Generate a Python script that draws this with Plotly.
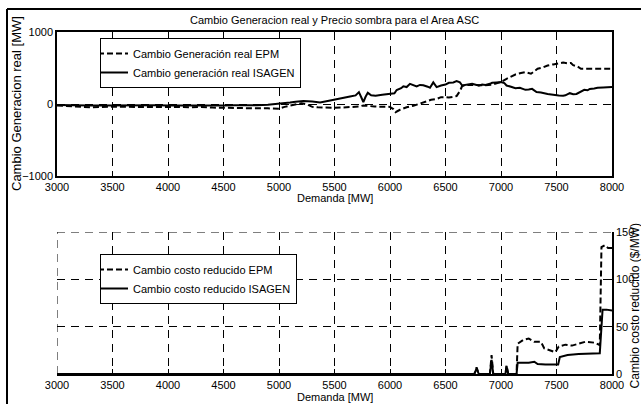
import plotly.graph_objects as go

# ---------------- data: top panel (Cambio Generacion real [MW]) ----------------
isagen_gen_x = [3000, 3100, 3200, 3300, 3400, 3500, 3600, 3700, 3800, 3900, 4000, 4100, 4200, 4300,
                4400, 4500, 4600, 4700, 4800, 4900, 5000, 5100, 5150, 5220, 5300, 5370, 5450, 5500,
                5580, 5640, 5690, 5720, 5745, 5760, 5780, 5800, 5830, 5870, 5930, 6000, 6040, 6060,
                6100, 6120, 6150, 6180, 6210, 6240, 6270, 6300, 6340, 6360, 6390, 6420, 6460, 6500,
                6530, 6570, 6600, 6630, 6650, 6700, 6740, 6780, 6800, 6830, 6860, 6900, 6920, 6960,
                7000, 7030, 7050, 7090, 7130, 7170, 7220, 7250, 7280, 7320, 7360, 7420, 7470, 7520,
                7560, 7580, 7620, 7650, 7680, 7720, 7750, 7780, 7800, 7840, 7870, 7920, 8000]
isagen_gen_y = [-15, -20, -25, -22, -20, -18, -20, -22, -20, -18, -20, -22, -20, -18,
                -22, -20, -18, -20, -18, -12, 0, 20, 30, 40, 35, 20, 45, 58,
                80, 105, 120, 165, 80, 25, 100, 155, 120, 115, 130, 140, 150, 195,
                220, 245, 235, 280, 260, 245, 265, 260, 240, 225, 300, 235, 257, 270,
                295, 300, 317, 300, 257, 270, 280, 265, 255, 270, 265, 280, 295, 300,
                305, 290, 257, 240, 220, 225, 197, 200, 210, 165, 160, 140, 125, 118,
                115, 120, 150, 135, 140, 170, 197, 190, 210, 215, 225, 230, 235]

epm_gen_x = [3000, 3100, 3200, 3300, 3400, 3500, 3600, 3700, 3800, 3900, 4000, 4100, 4200, 4300,
             4400, 4500, 4600, 4700, 4800, 4900, 5000, 5050, 5100, 5150, 5200, 5250, 5300, 5350,
             5400, 5500, 5580, 5670, 5720, 5760, 5800, 5860, 5930, 6000, 6030, 6050, 6090, 6120,
             6150, 6210, 6260, 6300, 6340, 6370, 6420, 6460, 6500, 6530, 6570, 6600, 6630, 6650,
             6700, 6740, 6800, 6860, 6920, 7000, 7050, 7090, 7130, 7180, 7220, 7270, 7330, 7380,
             7420, 7470, 7520, 7560, 7600, 7630, 7650, 7690, 7720, 7760, 7800, 7900, 8000]
epm_gen_y = [-20, -30, -40, -45, -40, -35, -38, -40, -38, -40, -35, -40, -45, -42,
             -50, -55, -50, -55, -60, -60, -65, -40, -20, 0, 10, -5, -40, -45,
             -50, -53, -48, -40, -35, -20, -30, -35, -38, -40, -70, -113, -80, -60,
             -45, -25, 0, 25, 45, 58, 70, 95, 95, 90, 100, 110, 180, 250,
             265, 262, 255, 260, 270, 305, 350, 380, 410, 430, 442, 420, 490, 510,
             535, 550, 560, 575, 565, 570, 540, 520, 490, 495, 490, 490, 490]

# ---------------- data: bottom panel (Cambio costo reducido ($/MW)) ----------------
epm_cost_x = [3000, 6760, 6780, 6800, 6900, 6915, 6930, 7040, 7050, 7065, 7140, 7150, 7200, 7250,
              7300, 7360, 7390, 7440, 7490, 7520, 7580, 7640, 7700, 7760, 7850, 7890, 7905, 7935,
              7965, 8000]
epm_cost_y = [0, 0, 7, 0, 0, 20, 0, 0, 9, 0, 0, 32, 36, 37.5,
              34, 34, 27, 25, 23, 29, 31, 30, 32, 34, 33, 30.5, 134, 136,
              133, 133]

isagen_cost_x = [3000, 6760, 6780, 6800, 6900, 6915, 6930, 7040, 7050, 7065, 7140, 7150, 7200, 7250,
                 7300, 7330, 7400, 7515, 7530, 7600, 7700, 7800, 7890, 7915, 7950, 8000]
isagen_cost_y = [0, 0, 6, 0, 0, 15, 0, 0, 8, 0, 0, 12, 12, 12,
                 13, 10.5, 10, 10, 18, 20, 21, 21.5, 22, 68, 68, 67]

x_ticks = [3000, 3500, 4000, 4500, 5000, 5500, 6000, 6500, 7000, 7500, 8000]
top_y_ticks = [-1000, 0, 1000]
bottom_y_ticks = [0, 50, 100, 150]

FONT = "Liberation Sans, Arial, Helvetica, sans-serif"

fig = go.Figure()
fig.add_trace(go.Scatter(x=epm_gen_x, y=epm_gen_y, mode="lines", name="Cambio Generación real EPM",
                         line=dict(color="black", width=2, dash="6px,3px"), xaxis="x", yaxis="y",
                         legend="legend"))
fig.add_trace(go.Scatter(x=isagen_gen_x, y=isagen_gen_y, mode="lines", name="Cambio generación real ISAGEN",
                         line=dict(color="black", width=2), xaxis="x", yaxis="y", legend="legend"))
fig.add_trace(go.Scatter(x=epm_cost_x, y=epm_cost_y, mode="lines", name="Cambio costo reducido EPM",
                         line=dict(color="black", width=2, dash="6px,3px"), xaxis="x2", yaxis="y2",
                         legend="legend2"))
fig.add_trace(go.Scatter(x=isagen_cost_x, y=isagen_cost_y, mode="lines", name="Cambio costo reducido ISAGEN",
                         line=dict(color="black", width=2), xaxis="x2", yaxis="y2", legend="legend2"))

GRIDDASH = "8px,6px"
grid = dict(showgrid=True, gridcolor="black", gridwidth=1, griddash=GRIDDASH)
tickf = dict(family=FONT, size=11, color="black")

top_dom = [(374 - 176) / 342, 1.0]
bot_dom = [0.0, (374 - 232) / 342]

legfont = dict(family=FONT, size=11, color="black")

fig.update_layout(
    width=641, height=404, autosize=False,
    margin=dict(l=57, r=29, t=32, b=30, pad=0, autoexpand=False),
    paper_bgcolor="white", plot_bgcolor="white",
    font=dict(family=FONT, size=11, color="black"),
    xaxis=dict(domain=[0, 1], anchor="y", range=[3000, 8000], tickvals=x_ticks, automargin=False,
               showline=True, mirror=True, linecolor="black", linewidth=1.5,
               ticks="inside", ticklen=5, tickcolor="black", zeroline=False,
               tickfont=tickf, **grid),
    yaxis=dict(domain=top_dom, anchor="x", range=[-1000, 1000], tickvals=top_y_ticks, automargin=False,
               showline=True, mirror=True, linecolor="black", linewidth=1.5,
               ticks="inside", ticklen=5, tickcolor="black", zeroline=False,
               tickfont=tickf, **grid),
    xaxis2=dict(domain=[0, 1], anchor="y2", range=[3000, 8000], tickvals=x_ticks, automargin=False,
                showline=True, mirror=False, linecolor="black", linewidth=1.5,
                ticks="inside", ticklen=5, tickcolor="black", zeroline=False,
                tickfont=tickf, **grid),
    yaxis2=dict(domain=bot_dom, anchor="x2", side="right", range=[0, 150], tickvals=bottom_y_ticks,
                automargin=False,
                showline=True, mirror=False, linecolor="black", linewidth=1.5,
                ticks="inside", ticklen=5, tickcolor="black", zeroline=False,
                tickfont=tickf, **grid),
    legend=dict(x=(100 - 57) / 555, y=(374 - 38) / 342, xanchor="left", yanchor="top",
                bgcolor="white", bordercolor="black", borderwidth=1, indentation=-8,
                font=legfont, tracegroupgap=0, itemwidth=30),
    legend2=dict(x=(100 - 57) / 555, y=(374 - 254) / 342, xanchor="left", yanchor="top",
                 bgcolor="white", bordercolor="black", borderwidth=1, indentation=-8,
                 font=legfont, tracegroupgap=0, itemwidth=30),
    showlegend=True,
)

ann = [
    dict(text="Cambio Generacion real y Precio sombra para el Area ASC", x=0.5, y=1 + (32 - 20) / 342,
         xref="paper", yref="paper", showarrow=False, xanchor="center", yanchor="middle",
         font=dict(family=FONT, size=11, color="black")),
    dict(text="Demanda [MW]", x=0.5, y=(374 - 198) / 342, xref="paper", yref="paper",
         showarrow=False, xanchor="center", yanchor="middle", font=dict(family=FONT, size=11, color="black")),
    dict(text="Demanda [MW]", x=0.5, y=(374 - 397) / 342, xref="paper", yref="paper",
         showarrow=False, xanchor="center", yanchor="middle", font=dict(family=FONT, size=11, color="black")),
    dict(text="Cambio Generacion real [MW]", x=(16 - 57) / 555, y=(top_dom[0] + top_dom[1]) / 2,
         xref="paper", yref="paper", showarrow=False, xanchor="center", yanchor="middle", textangle=-90,
         font=dict(family=FONT, size=13, color="black")),
    dict(text="Cambio costo reducido ($/MW)", x=(635 - 57) / 555, y=(bot_dom[0] + bot_dom[1]) / 2 - 0.01,
         xref="paper", yref="paper", showarrow=False, xanchor="center", yanchor="middle", textangle=-90,
         font=dict(family=FONT, size=12, color="black")),
]
fig.update_layout(annotations=ann)

# dashed grid lines on the open edges of the lower panel (MATLAB draws them; plotly skips edge grids)
fig.add_shape(type="line", xref="x2 domain", yref="y2", x0=0, x1=1, y0=150, y1=150,
              line=dict(color="black", width=1, dash=GRIDDASH), layer="below")
fig.add_shape(type="line", xref="x2", yref="y2 domain", x0=3000, x1=3000, y0=0, y1=1,
              line=dict(color="black", width=1, dash=GRIDDASH), layer="below")

# figure frame (left and top edges of the cropped MATLAB figure)
fx = (7 - 57) / 555
fy = 1 + (32 - 9) / 342
fig.add_shape(type="line", xref="paper", yref="paper", x0=fx, x1=fx, y0=-0.2, y1=fy,
              line=dict(color="black", width=2))
fig.add_shape(type="line", xref="paper", yref="paper", x0=fx, x1=1.2, y0=fy, y1=fy,
              line=dict(color="black", width=2))

fig.write_html("out.html")
